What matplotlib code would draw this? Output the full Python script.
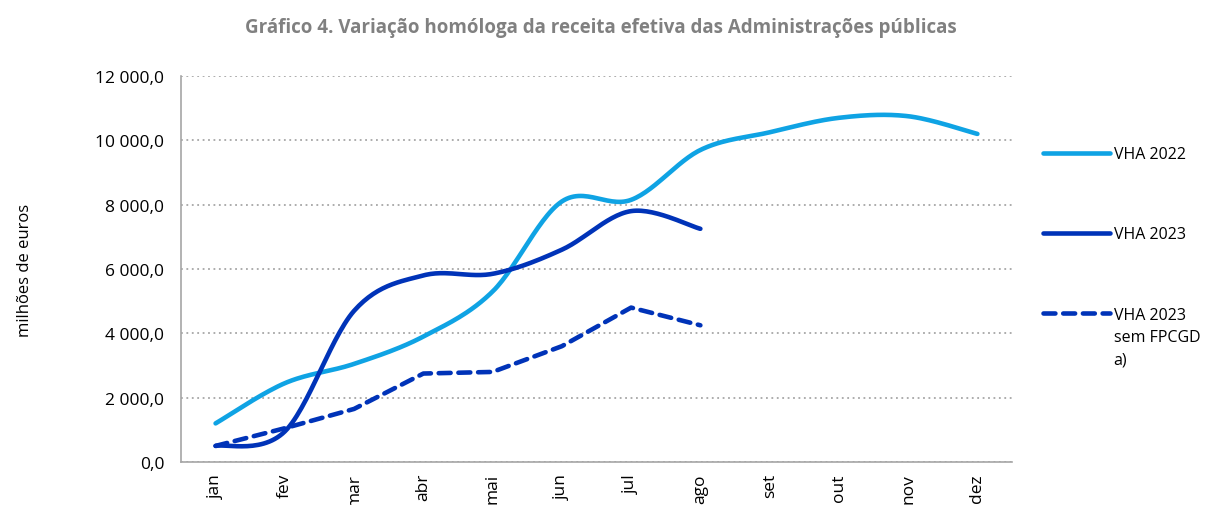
import numpy as np
import matplotlib.pyplot as plt
from matplotlib.ticker import FuncFormatter

plt.rcParams['font.family'] = ['Open Sans', 'DejaVu Sans']

meses = ['jan', 'fev', 'mar', 'abr', 'mai', 'jun', 'jul', 'ago', 'set', 'out', 'nov', 'dez']
vha_2022 = [1200, 2450, 3050, 3900, 5300, 8100, 8150, 9700, 10250, 10700, 10750, 10200]
vha_2023 = [500, 950, 4700, 5800, 5850, 6600, 7800, 7250]
vha_2023_sem_fpcgd = [500, 1050, 1650, 2750, 2800, 3600, 4800, 4250]

AZUL_CLARO = '#0FA3E4'
AZUL_ESCURO = '#0033B8'


def suavizar(valores, n=30):
    # curva suavizada tipo Excel (Catmull-Rom)
    p = np.asarray(valores, dtype=float)
    x = np.arange(len(p), dtype=float)
    pts = np.column_stack([x, p])
    ext = np.vstack([pts[0], pts, pts[-1]])
    out = []
    for i in range(len(pts) - 1):
        p0, p1, p2, p3 = ext[i], ext[i + 1], ext[i + 2], ext[i + 3]
        c1 = p1 + (p2 - p0) / 6
        c2 = p2 - (p3 - p1) / 6
        t = np.linspace(0, 1, n)[:, None]
        seg = ((1 - t) ** 3) * p1 + 3 * ((1 - t) ** 2) * t * c1 + 3 * (1 - t) * t ** 2 * c2 + t ** 3 * p2
        out.append(seg if i == 0 else seg[1:])
    seg = np.vstack(out)
    return seg[:, 0], seg[:, 1]


fig = plt.figure(figsize=(12.12, 5.06), dpi=100)
ax = fig.add_axes([0.1493, 0.085, 0.6857, 0.7628])

x1, y1 = suavizar(vha_2022)
ax.plot(x1, y1, color=AZUL_CLARO, lw=3.3, solid_capstyle='round', label='VHA 2022')
x2, y2 = suavizar(vha_2023)
ax.plot(x2, y2, color=AZUL_ESCURO, lw=3.3, solid_capstyle='round', label='VHA 2023')
ax.plot(range(len(vha_2023_sem_fpcgd)), vha_2023_sem_fpcgd, color=AZUL_ESCURO, lw=3.3,
        dashes=(2.6, 1.7), dash_capstyle='round', label='VHA 2023\nsem FPCGD\na)')

ax.set_xlim(-0.5, len(meses) - 0.5)
ax.set_ylim(0, 12000)
ax.set_xticks(range(len(meses)))
ax.set_xticklabels(meses, rotation=90, fontsize=12.5)
ax.set_yticks(range(0, 12001, 2000))
ax.yaxis.set_major_formatter(FuncFormatter(lambda v, _: f'{v:,.1f}'.replace(',', ' ').replace('.', ',')))
ax.tick_params(axis='y', labelsize=12.5, length=0, pad=12)
ax.tick_params(axis='x', length=0, pad=8)
ax.grid(axis='y', color='#A6A6A6', linestyle=(0, (1, 2)), lw=1.3)
ax.set_axisbelow(True)
for s in ['top', 'right']:
    ax.spines[s].set_visible(False)
for s in ['left', 'bottom']:
    ax.spines[s].set_color('#A6A6A6')
    ax.spines[s].set_linewidth(1.2)

ax.set_ylabel('milhões de euros', fontsize=12, labelpad=45)

leg = ax.legend(loc='upper left', bbox_to_anchor=(1.029, 0.835), frameon=False, fontsize=11.5,
                handlelength=4.2, handleheight=1.2, handletextpad=0.25, labelspacing=4.0,
                borderaxespad=0)
# alinhar a amostra com a primeira linha do texto
for coluna in leg._legend_handle_box.get_children():
    for item in coluna.get_children():
        item.align = 'top'
for txt in leg.get_texts():
    txt.set_linespacing(1.55)

fig.text(0.496, 0.945, 'Gráfico 4. Variação homóloga da receita efetiva das Administrações públicas',
         ha='center', va='center', fontsize=13.5, fontweight='bold', color='#808080')

fig.savefig('out.png', dpi=100)
